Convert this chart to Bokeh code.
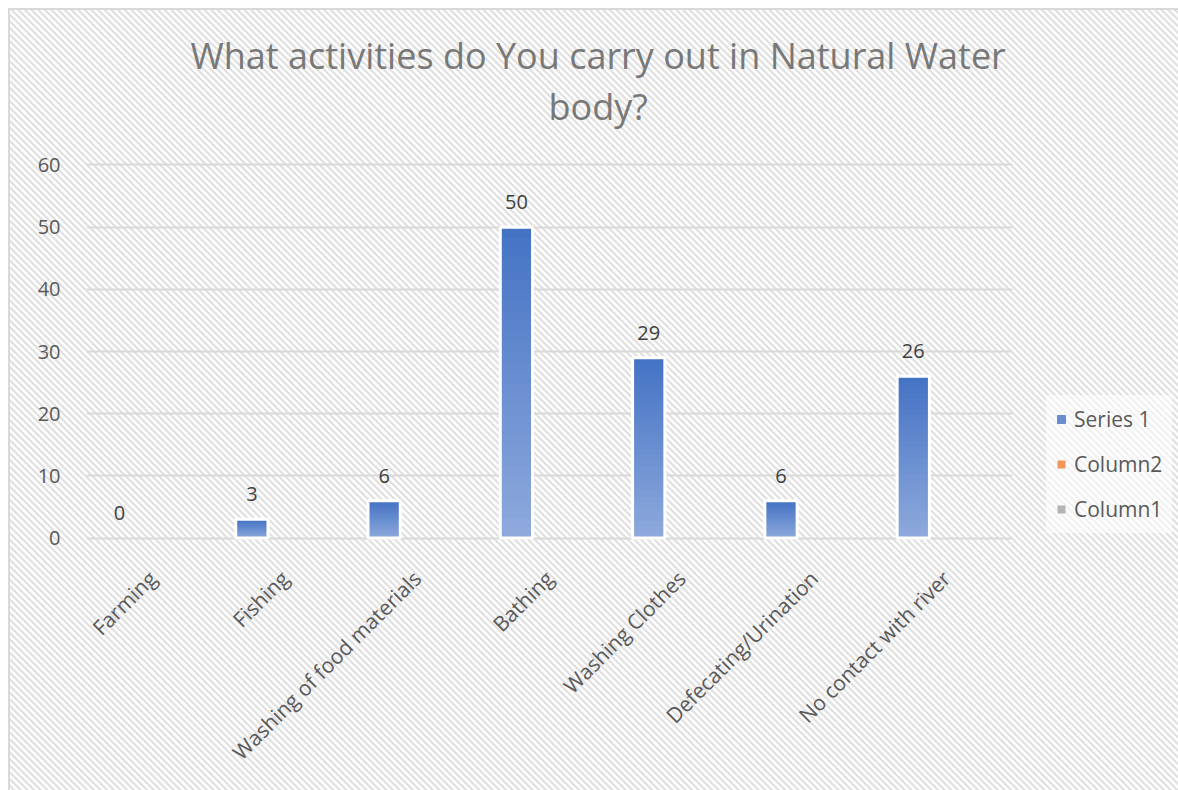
import math
from bokeh.plotting import figure
from bokeh.models import (ColumnDataSource, FactorRange, Range1d, Legend, LegendItem, Title)
from bokeh.transform import dodge
from bokeh.core.properties import value
from bokeh.embed import file_html
from bokeh.resources import INLINE

# ---- data ----
categories = ["Farming", "Fishing", "Washing of food materials", "Bathing",
              "Washing Clothes", "Defecating/Urination", "No contact with river"]
series1 = [0, 3, 6, 50, 29, 6, 26]
column2 = [0, 0, 0, 0, 0, 0, 0]   # empty series
column1 = [0, 0, 0, 0, 0, 0, 0]   # empty series
title_line1 = "What activities do You carry out in Natural Water"
title_line2 = "body?"
y_ticks = [0, 10, 20, 30, 40, 50, 60]

FONT = "Open Sans"
TOP_RGB = (68, 114, 196)
BOT_RGB = (143, 170, 220)
NSLICE = 30

def lerp(a, b, t):
    return "#%02x%02x%02x" % tuple(int(round(a[i] + (b[i] - a[i]) * t)) for i in range(3))

# gradient slices of each bar (visual style only)
sx, sb, st, sc = [], [], [], []
legend_idx = 0
for c, v in zip(categories, series1):
    if v <= 0:
        continue
    if v == max(series1):
        legend_idx = len(sx) + NSLICE // 2
    for k in range(NSLICE):
        sx.append(c)
        sb.append(v * k / NSLICE)
        st.append(v * (k + 1) / NSLICE)
        sc.append(lerp(BOT_RGB, TOP_RGB, (k + 0.5) / NSLICE))
slices = ColumnDataSource(dict(x=sx, bottom=sb, top=st, color=sc))

src = ColumnDataSource(dict(x=categories, top=series1,
                            lab=[str(v) for v in series1],
                            oa=[1.0 if v > 0 else 0.0 for v in series1]))

p = figure(title=None, frame_width=926, frame_height=378, x_range=FactorRange(*categories),
           y_range=Range1d(-0.4, 60.4), output_backend="svg", toolbar_location=None,
           min_border_left=76, min_border_right=168, min_border_top=152, min_border_bottom=250)
p.background_fill_alpha = 0
p.border_fill_alpha = 0
p.outline_line_color = None
p.styles = {
    "background": "repeating-linear-gradient(45deg, #ffffff 0px, #ffffff 1.2px, #e0e0e0 2.4px, #e0e0e0 3.4px, #ffffff 4.7px)",
    "border-left": "2px solid #d9d9d9",
    "border-top": "2px solid #d9d9d9",
    "margin-left": "8px",
    "margin-top": "8px",
}

BW = 0.244
OFF = -0.25
r_slices = p.vbar(x=dodge("x", OFF, range=p.x_range), bottom="bottom", top="top", width=BW,
                  fill_color="color", line_color="color", line_width=1, source=slices)
p.vbar(x=dodge("x", OFF, range=p.x_range), bottom=0, top="top", width=BW,
       fill_alpha=0, line_color="white", line_width=3, line_alpha="oa", source=src)

p.text(x=dodge("x", OFF, range=p.x_range), y="top", text="lab", source=src,
       text_align="center", text_baseline="middle", y_offset=-25,
       text_font=value(FONT), text_font_size="20px", text_color="#404040")

# the two empty columns (nothing visible on the chart, shown in legend)
r_c2 = p.vbar(x=dodge("x", 0.0, range=p.x_range), top="top", width=BW, fill_color="#f0965a", line_color=None,
              source=ColumnDataSource(dict(x=categories, top=column2)))
r_c1 = p.vbar(x=dodge("x", 0.25, range=p.x_range), top="top", width=BW, fill_color="#b4b4b4", line_color=None,
              source=ColumnDataSource(dict(x=categories, top=column1)))

legend = Legend(items=[LegendItem(label="Series 1", renderers=[r_slices], index=legend_idx),
                       LegendItem(label="Column2", renderers=[r_c2], index=0),
                       LegendItem(label="Column1", renderers=[r_c1], index=0)],
                location=(34, 7), glyph_width=10, glyph_height=10, label_height=20,
                spacing=17, label_standoff=8, padding=10, margin=0,
                label_text_font=FONT, label_text_font_size="21px", label_text_color="#595959",
                background_fill_color="white", background_fill_alpha=0.55,
                border_line_alpha=0)
p.add_layout(legend, "right")

# axes
p.yaxis.ticker = y_ticks
p.yaxis.axis_line_color = None
p.yaxis.major_tick_line_color = None
p.yaxis.minor_tick_line_color = None
p.yaxis.major_label_standoff = 20
p.yaxis.major_label_text_font = FONT
p.yaxis.major_label_text_font_size = "20px"
p.yaxis.major_label_text_color = "#595959"

p.xaxis.axis_line_color = None
p.xaxis.major_tick_line_color = None
p.xaxis.major_label_orientation = math.pi / 4
p.xaxis.major_label_standoff = 28
p.xaxis.major_label_text_font = FONT
p.xaxis.major_label_text_font_size = "21px"
p.xaxis.major_label_text_color = "#595959"

p.xgrid.grid_line_color = None
p.ygrid.grid_line_color = "#d9d9d9"
p.ygrid.grid_line_width = 2

# title: (nearly) invisible spacer nearest the frame, then line 2, then line 1
p.add_layout(Title(text=".", text_font_size="1px", standoff=29, text_color="white",
                   text_alpha=0.01), "above")
p.add_layout(Title(text=title_line2, align="left", offset=462, standoff=0,
                   text_font=FONT, text_font_size="36px", text_color="#787878",
                   text_font_style="normal"), "above")
p.add_layout(Title(text=title_line1, align="left", offset=104, standoff=0,
                   text_font=FONT, text_font_size="36px", text_color="#787878",
                   text_font_style="normal"), "above")

open("out.html", "w").write(file_html(p, INLINE))
